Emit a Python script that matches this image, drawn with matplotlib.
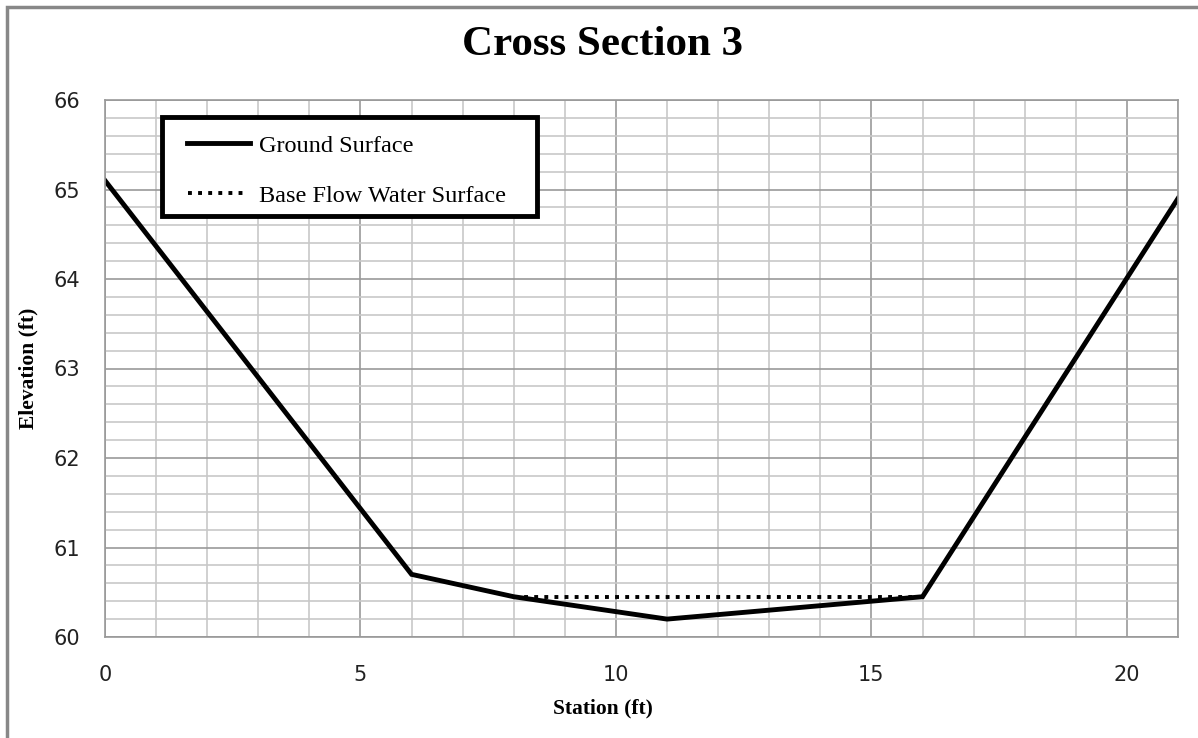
import matplotlib
matplotlib.use("Agg")
import matplotlib.pyplot as plt
from matplotlib.patches import Rectangle
from matplotlib.lines import Line2D

station = [0, 6, 8, 11, 16, 21]
ground = [65.1, 60.7, 60.45, 60.2, 60.45, 64.9]
water_station = [8, 16]
water_elev = [60.45, 60.45]
series_names = ["Ground Surface", "Base Flow Water Surface"]

W, H = 1198, 738
fig = plt.figure(figsize=(W / 100, H / 100), dpi=100)
ax = fig.add_axes([105 / W, 1 - 637 / H, (1178 - 105) / W, (637 - 100) / H])


def fx(px):
    return px / W


def fy(py):
    return 1 - py / H


DOTS = (0, (1, 1.6))
DOT_LW = 2.8

# outer chart border
fig.patches.append(Rectangle((fx(7), -0.1), 1.2, fy(7) + 0.1, transform=fig.transFigure,
                             fill=False, edgecolor="#888888", linewidth=2.5, zorder=0))

ax.set_xlim(0, 21)
ax.set_ylim(60, 66)
ax.set_xticks([0, 5, 10, 15, 20])
ax.set_xticks(range(0, 22), minor=True)
ax.set_yticks(range(60, 67))
ax.set_yticks([60 + 0.2 * i for i in range(31)], minor=True)
ax.grid(which="minor", color="#c8c8c8", linewidth=1.2)
ax.grid(which="major", color="#999999", linewidth=1.2)
ax.set_axisbelow(True)
for s in ax.spines.values():
    s.set_color("#999999")
    s.set_linewidth(1.2)
ax.tick_params(which="both", length=0, labelsize=15, colors="#222222")
ax.tick_params(axis="x", pad=20)
ax.tick_params(axis="y", pad=18)
for lab in ax.get_xticklabels() + ax.get_yticklabels():
    lab.set_fontfamily("DejaVu Sans")

ax.plot(station, ground, color="black", linewidth=3.5, solid_joinstyle="miter")
ax.plot(water_station, water_elev, color="black", linewidth=DOT_LW, linestyle=DOTS)

serif = "Liberation Serif"
fig.text(fx(603), fy(708), "Station (ft)", fontfamily=serif, fontweight="bold",
         fontsize=15.5, ha="center", va="center")
fig.text(fx(28), fy(368), "Elevation (ft)", fontfamily=serif, fontweight="bold",
         fontsize=15.5, ha="center", va="center", rotation=90)
fig.text(fx(603), fy(45), "Cross Section 3", fontfamily=serif, fontweight="bold",
         fontsize=31, ha="center", va="center")

# legend box
fig.patches.append(Rectangle((fx(162), fy(216)), fx(537) - fx(162), fy(117) - fy(216),
                             transform=fig.transFigure, facecolor="white", edgecolor="black",
                             linewidth=3.5, zorder=5))
fig.lines.append(Line2D([fx(187), fx(250)], [fy(143), fy(143)], transform=fig.transFigure,
                        color="black", linewidth=3.5, zorder=6))
fig.lines.append(Line2D([fx(188), fx(247)], [fy(193), fy(193)], transform=fig.transFigure,
                        color="black", linewidth=DOT_LW, linestyle=DOTS, zorder=6))
fig.text(fx(259), fy(146), series_names[0], fontfamily=serif, fontsize=17.5,
         ha="left", va="center", zorder=7)
fig.text(fx(259), fy(196), series_names[1], fontfamily=serif, fontsize=17.5,
         ha="left", va="center", zorder=7)

fig.savefig("out.png", dpi=100)
